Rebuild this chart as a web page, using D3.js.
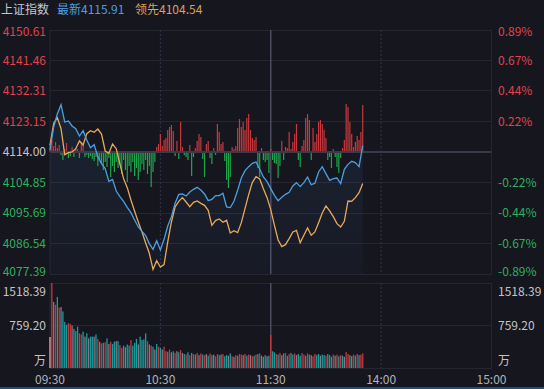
<!DOCTYPE html>
<html><head><meta charset="utf-8">
<script src="https://cdn.jsdelivr.net/npm/d3@7/dist/d3.min.js"></script>
<style>
html,body{margin:0;padding:0;background:#16161f;}
svg{display:block;font-family:"Noto Sans CJK SC","Noto Sans",sans-serif;}
</style></head>
<body>
<svg id="chart" width="544" height="389"></svg>
<script>
// ---------- data ----------
const title = "上证指数";
const latestLabel = "最新4115.91";
const leadLabel = "领先4104.54";
const prevClose = 4114.00;
const priceTicks = [4150.61, 4141.46, 4132.31, 4123.15, 4114.00, 4104.85, 4095.69, 4086.54, 4077.39];
const pctTicks = ["0.89%", "0.67%", "0.44%", "0.22%", "", "-0.22%", "-0.44%", "-0.67%", "-0.89%"];
const timeTicks = [0, 60, 120, 180, 240];
const timeLabels = ["09:30", "10:30", "11:30", "14:00", "15:00"];
const volTicks = [1518.39, 759.20, 0];
const volTickLabels = ["1518.39", "759.20", "万"];

// line points every 2 minutes (minute index from 09:30)
const lineMinutes = [0,2,4,6,8,10,12,14,16,18,20,22,24,26,28,30,32,34,36,38,40,42,44,46,48,50,52,54,56,58,60,62,64,66,68,70,72,74,76,78,80,82,84,86,88,90,92,94,96,98,100,102,104,106,108,110,112,114,116,118,120,122,124,126,128,130,132,134,136,138,140,142,144,146,148,150,152,154,156,158,160,162,164,166,168,170];
const latestValues = [4114.6,4121.5,4125.5,4128.2,4123.0,4123.3,4121.8,4121.0,4118.8,4120.4,4117.6,4115.3,4116.2,4112.6,4110.5,4109.0,4105.2,4105.8,4102.3,4100.6,4099.2,4097.4,4095.8,4093.6,4091.5,4090.2,4088.9,4086.5,4084.8,4087.4,4084.6,4087.8,4091.8,4094.6,4098.6,4101.3,4101.4,4100.8,4102.0,4102.8,4103.4,4102.6,4101.4,4099.4,4099.8,4100.9,4100.9,4101.6,4097.5,4097.3,4099.2,4102.5,4106.2,4108.4,4109.6,4110.6,4111.0,4108.8,4106.5,4105.1,4103.0,4101.0,4099.4,4100.4,4101.3,4101.9,4103.8,4104.8,4103.6,4104.8,4106.5,4104.2,4104.6,4108.0,4109.6,4107.5,4105.5,4106.0,4106.2,4104.5,4108.8,4110.3,4111.2,4110.8,4109.6,4115.91];
const leadValues = [4116.1,4122.6,4124.3,4121.0,4113.2,4113.8,4114.0,4115.0,4117.3,4116.1,4119.5,4120.4,4119.9,4120.9,4119.4,4114.3,4113.6,4116.4,4115.0,4110.4,4106.0,4103.3,4099.6,4096.2,4093.0,4090.0,4086.7,4083.6,4078.8,4081.4,4079.5,4080.2,4087.0,4093.0,4097.5,4099.2,4100.3,4099.0,4097.6,4098.9,4099.3,4098.6,4098.0,4096.5,4092.0,4093.4,4093.9,4092.9,4093.5,4089.7,4090.4,4089.8,4092.8,4097.0,4101.2,4104.9,4106.6,4105.9,4103.0,4100.3,4096.7,4092.0,4087.6,4085.6,4086.2,4088.0,4090.0,4090.5,4086.8,4089.0,4091.2,4089.0,4090.0,4092.8,4095.7,4097.8,4096.3,4094.6,4092.5,4091.5,4093.2,4099.3,4099.2,4100.3,4101.8,4104.54];

// per-minute strength bars (minute 0..170)
const strength = [8,12,6,10,4,7,-3,-8,3,9,-6,-4,5,-5,4,3,-6,10,7,-5,-3,-6,-4,-7,-9,-5,-14,-8,-12,-18,-10,-15,-6,-25,-14,-20,-10,-16,-12,-22,-8,-18,-30,-14,-20,-10,-24,-16,-28,-20,-12,-18,-8,-22,-14,-35,-20,-10,5,8,18,6,12,14,22,25,27,21,-4,11,-7,30,5,-3,-5,-8,7,-24,-5,4,11,18,15,-7,-25,8,11,-6,-12,4,-3,28,20,8,10,-9,-28,-36,-25,5,3,6,24,33,25,30,22,34,38,22,14,12,15,-16,-25,4,-8,-10,-8,-21,3,-8,-11,-12,-26,-14,11,-8,5,4,20,3,10,18,28,-8,-15,6,12,34,38,32,-8,24,10,18,30,32,28,22,14,-8,-5,-16,3,-5,-15,-21,-6,4,12,48,45,30,18,5,10,16,12,20,47];

// per-minute volume (万) and bar colour code: p=auction, r=up, g=down, n=flat
const volume = [554,1518,1180,1130,1270,1080,1090,1010,820,770,800,790,760,700,660,740,620,600,650,560,620,530,560,560,560,600,520,470,440,450,460,530,430,470,430,470,480,480,410,360,400,370,420,400,500,400,450,520,420,560,500,510,620,480,420,400,380,330,430,380,360,330,380,300,290,330,280,300,270,300,280,320,270,250,240,280,230,270,250,240,270,230,260,240,230,250,220,260,230,240,210,250,230,240,250,210,230,220,260,210,200,230,220,250,240,230,250,220,240,230,210,220,240,250,260,220,200,230,210,220,590,300,280,250,240,270,230,260,270,220,250,270,240,260,230,250,220,270,240,220,260,240,230,210,250,230,250,220,240,230,220,250,230,200,240,220,240,210,230,220,200,285,250,230,210,240,220,250,230,240,260];
const volColor = ("prnrgrnggg" + "rrngggrrgn" + "gnggngrnrg" + "rgnrggngrr" + "gnggrgggng" +
  "gggrnrgngr" + "gnrrgrngrn" + "grngrgrgrg" + "rnrgrngrgn" + "rrgnrggngr" +
  "nrgrrnrgrn" + "rgrgrnggng" + "rggrgrngrg" + "rggrnggrrg" + "rgnrrggngg" +
  "rgggrnrgrg" + "nrrgnrgrgrr").split("");

// ---------- layout ----------
const svg = d3.select("#chart");
const W = 544, H = 389;
const L = 50, R = 491.5;
const mainTop = 30, mainBot = 274;
const volTop = 283, volBot = 368;

const x = d3.scaleLinear().domain([0, 240]).range([L, R]);
const y = d3.scaleLinear().domain([4077.39, 4150.61]).range([mainBot, mainTop]);
const y0 = y(prevClose);
const ys = d3.scaleLinear().domain([-100, 100]).range([y0 + 100, y0 - 100]);
const yv = d3.scaleLinear().domain([0, 1518.39]).range([volBot, volTop]);

const gridCol = "#262632";
const red = "#e0434b", green = "#2fb15a", grey = "#c4c4c8";

// background
svg.append("rect").attr("width", W).attr("height", H).attr("fill", "#16161f");

// horizontal grid main
svg.append("g").selectAll("line").data(priceTicks).join("line")
  .attr("x1", L).attr("x2", R)
  .attr("y1", d => y(d)).attr("y2", d => y(d))
  .attr("stroke", gridCol).attr("stroke-width", 1)
  .attr("shape-rendering", "crispEdges");
// volume grid
svg.append("g").selectAll("line").data(volTicks).join("line")
  .attr("x1", L).attr("x2", R)
  .attr("y1", d => yv(d)).attr("y2", d => yv(d))
  .attr("stroke", gridCol).attr("stroke-width", 1)
  .attr("shape-rendering", "crispEdges");

// vertical grid
function vlines(top, bot) {
  const g = svg.append("g");
  timeTicks.forEach((t, i) => {
    const dashed = (i === 1 || i === 3);
    const mid = (i === 2);
    g.append("line").attr("x1", x(t)).attr("x2", x(t)).attr("y1", top).attr("y2", bot)
      .attr("stroke", mid ? "#4a4a60" : (dashed ? "#34344a" : gridCol))
      .attr("stroke-width", mid ? 1.5 : 1)
      .attr("stroke-dasharray", dashed ? "2,2" : null);
  });
}
vlines(mainTop, mainBot);
vlines(volTop, volBot);

// area under latest line
const pts = lineMinutes.map((m, i) => ({m, a: latestValues[i], b: leadValues[i]}));
const grad = svg.append("defs").append("linearGradient").attr("id", "ga")
  .attr("x1", 0).attr("y1", 0).attr("x2", 0).attr("y2", 1);
grad.append("stop").attr("offset", "0%").attr("stop-color", "#4a9fe0").attr("stop-opacity", 0.10);
grad.append("stop").attr("offset", "100%").attr("stop-color", "#4a9fe0").attr("stop-opacity", 0.03);
svg.append("path").datum(pts)
  .attr("d", d3.area().x(d => x(d.m)).y0(mainBot).y1(d => y(d.a)))
  .attr("fill", "url(#ga)");

// strength bars
svg.append("g").selectAll("rect").data(strength).join("rect")
  .attr("x", (d, i) => x(i) - 0.6)
  .attr("width", 1.2)
  .attr("y", d => d >= 0 ? ys(d) : y0)
  .attr("height", d => Math.abs(ys(d) - y0))
  .attr("fill", d => d >= 0 ? "#c8383d" : "#1fa64b");

// zero line
svg.append("line").attr("x1", L).attr("x2", R).attr("y1", y0).attr("y2", y0)
  .attr("stroke", "#3a3a4c").attr("stroke-width", 2);

// lines
svg.append("path").datum(pts)
  .attr("d", d3.line().x(d => x(d.m)).y(d => y(d.b)))
  .attr("fill", "none").attr("stroke", "#e9a958").attr("stroke-width", 1.3);
svg.append("path").datum(pts)
  .attr("d", d3.line().x(d => x(d.m)).y(d => y(d.a)))
  .attr("fill", "none").attr("stroke", "#4c9fe2").attr("stroke-width", 1.3);

// volume bars
const vc = {p: "#f0a8b0", r: "#c7383c", g: "#179d9d", n: "#857b86"};
svg.append("g").selectAll("rect").data(volume).join("rect")
  .attr("x", (d, i) => x(i) - 0.65)
  .attr("width", 1.3)
  .attr("y", d => yv(d))
  .attr("height", d => volBot - yv(d))
  .attr("fill", (d, i) => vc[volColor[i]] || vc.n);

// price axis labels
const fs = 12;
const lab = svg.append("g").attr("font-size", fs);
priceTicks.forEach((p, i) => {
  const col = p > prevClose ? red : (p < prevClose ? green : grey);
  const yy = Math.min(Math.max(y(p), 32), 272);
  lab.append("text").attr("x", 46).attr("y", yy).attr("dy", "0.35em")
    .attr("text-anchor", "end").attr("fill", col).text(p.toFixed(2));
  if (pctTicks[i]) {
    lab.append("text").attr("x", 498).attr("y", yy).attr("dy", "0.35em")
      .attr("fill", col).text(pctTicks[i]);
  }
});
// volume labels
const volLabelY = [292, 326, 361];
volTicks.forEach((v, i) => {
  lab.append("text").attr("x", 46).attr("y", volLabelY[i]).attr("dy", "0.35em")
    .attr("text-anchor", "end").attr("fill", grey).text(volTickLabels[i]);
  lab.append("text").attr("x", 498).attr("y", volLabelY[i]).attr("dy", "0.35em")
    .attr("fill", grey).text(volTickLabels[i]);
});
// time labels
timeTicks.forEach((t, i) => {
  lab.append("text").attr("x", x(t)).attr("y", 380).attr("dy", "0.35em")
    .attr("text-anchor", "middle").attr("fill", "#b4b4b8").text(timeLabels[i]);
});

// header
const hd = svg.append("g").attr("font-size", fs);
hd.append("text").attr("x", 1).attr("y", 10).attr("dy", "0.35em").attr("fill", "#c6c6ca").text(title);
hd.append("text").attr("x", 57).attr("y", 10).attr("dy", "0.35em").attr("fill", "#4c9fe2").text(latestLabel);
hd.append("text").attr("x", 135).attr("y", 10).attr("dy", "0.35em").attr("fill", "#d9a25c").text(leadLabel);

// bottom strip
svg.append("rect").attr("x", 0).attr("y", 387).attr("width", W).attr("height", 2).attr("fill", "#1c4f73");
</script>
</body></html>
